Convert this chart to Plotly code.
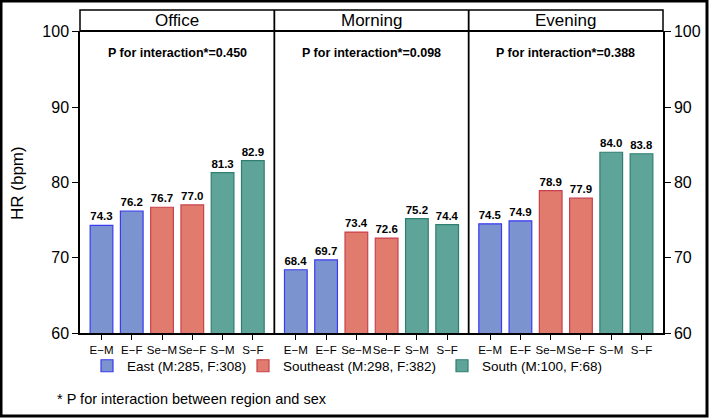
import plotly.graph_objects as go

panels = ["Office", "Morning", "Evening"]
p_values = ["0.450", "0.098", "0.388"]
categories = ["E−M", "E−F", "Se−M", "Se−F", "S−M", "S−F"]
regions = ["East (M:285, F:308)", "Southeast (M:298, F:382)", "South (M:100, F:68)"]
office = [74.3, 76.2, 76.7, 77.0, 81.3, 82.9]
morning = [68.4, 69.7, 73.4, 72.6, 75.2, 74.4]
evening = [74.5, 74.9, 78.9, 77.9, 84.0, 83.8]
panel_values = [office, morning, evening]
y_ticks = [60, 70, 80, 90, 100]

fills = ["#7B93CE", "#E07B6E", "#5FA498"]
lines = ["#3A3AF0", "#C8404C", "#2F7F70"]
legend_ids = ["legend", "legend2", "legend3"]
legend_x_px = [87, 243, 442]

AR = "Liberation Sans, Arial"

# plot area in pixels
L, R, T, B = 80, 663, 10, 333
PW, PH = R - L, B - T


def px_x(px):
    return (px - L) / PW


def px_y(py):
    return (B - py) / PH


fig = go.Figure()
for p in range(3):
    xa = "x" if p == 0 else f"x{p+1}"
    for r in range(3):
        cats = categories[2 * r:2 * r + 2]
        vals = panel_values[p][2 * r:2 * r + 2]
        fig.add_trace(go.Bar(
            x=cats, y=vals, xaxis=xa, yaxis="y",
            name=regions[r], legendgroup=regions[r], showlegend=(p == 0),
            legend=legend_ids[r],
            marker=dict(color=fills[r], line=dict(color=lines[r], width=1.2)),
            text=[f"{v:.1f}" for v in vals], textposition="outside",
            textfont=dict(family=AR, size=11.5, color="black", weight="bold"),
            cliponaxis=False,
        ))

ydom = [0, px_y(31)]
yr = [60, 100.1]
layout = dict(
    width=709, height=418,
    margin=dict(l=L, r=709 - R, t=T, b=418 - B, autoexpand=False),
    paper_bgcolor="white", plot_bgcolor="white",
    barmode="overlay", bargap=0.25,
    showlegend=True,
    yaxis=dict(domain=ydom, range=yr, tickvals=y_ticks, ticks="outside", ticklen=6,
               tickcolor="black", showline=True, linecolor="black", linewidth=1.5,
               showgrid=False, zeroline=False, anchor="x",
               tickfont=dict(family=AR, size=16, color="black")),
    yaxis4=dict(domain=ydom, range=yr, tickvals=y_ticks, ticks="outside", ticklen=6,
                tickcolor="black", showline=True, linecolor="black", linewidth=1.5,
                showgrid=False, zeroline=False, overlaying="y", side="right", anchor="x3",
                tickfont=dict(family=AR, size=16, color="black")),
)
for i, lid in enumerate(legend_ids):
    layout[lid] = dict(orientation="h", x=px_x(legend_x_px[i]), xanchor="left",
                       y=px_y(366), yanchor="middle", borderwidth=0,
                       bgcolor="rgba(0,0,0,0)",
                       font=dict(family=AR, size=13.5, color="black"))
for p in range(3):
    key = "xaxis" if p == 0 else f"xaxis{p+1}"
    layout[key] = dict(domain=[p / 3, (p + 1) / 3], anchor="y", type="category",
                       categoryorder="array", categoryarray=categories,
                       range=[-0.71, 5.71], ticks="outside", ticklen=5, tickcolor="black",
                       tickangle=0,
                       showline=True, linecolor="black", linewidth=1.5, showgrid=False,
                       tickfont=dict(family=AR, size=11.5, color="black"))
fig.update_layout(**layout)
# helper so the right-hand axis is drawn
fig.add_trace(go.Scatter(x=[None], y=[None], xaxis="x3", yaxis="y4", showlegend=False,
                         hoverinfo="skip"))

shapes = []
shapes.append(dict(type="rect", xref="paper", yref="paper", x0=0, x1=1, y0=ydom[1], y1=1,
                   line=dict(color="black", width=1.5), fillcolor="rgba(0,0,0,0)"))
shapes.append(dict(type="line", xref="paper", yref="paper", x0=0, x1=1, y0=ydom[1], y1=ydom[1],
                   line=dict(color="black", width=2.2)))
for d in [1 / 3, 2 / 3]:
    shapes.append(dict(type="line", xref="paper", yref="paper", x0=d, x1=d, y0=0, y1=1,
                       line=dict(color="black", width=1.8)))
shapes.append(dict(type="rect", xref="paper", yref="paper",
                   x0=px_x(1), x1=px_x(707), y0=px_y(416), y1=px_y(1),
                   line=dict(color="black", width=3), fillcolor="rgba(0,0,0,0)"))
fig.update_layout(shapes=shapes)

annotations = []
for p in range(3):
    cx = (p + 0.5) / 3
    annotations.append(dict(text=panels[p], xref="paper", yref="paper", x=cx, y=px_y(20.5),
                            xanchor="center", yanchor="middle",
                            showarrow=False, font=dict(family=AR, size=17, color="black")))
    annotations.append(dict(text=f"P for interaction*={p_values[p]}", xref="paper", yref="paper",
                            x=cx, y=px_y(53), xanchor="center", yanchor="middle", showarrow=False,
                            font=dict(family=AR, size=12.5, color="black", weight="bold")))
annotations.append(dict(text="HR (bpm)", xref="paper", yref="paper", x=px_x(17), xanchor="center",
                        y=px_y(183), yanchor="middle", textangle=-90, showarrow=False,
                        font=dict(family=AR, size=17, color="black")))
annotations.append(dict(text="* P for interaction between region and sex", xref="paper", yref="paper",
                        x=px_x(55), xanchor="left", y=px_y(399), yanchor="middle",
                        showarrow=False, font=dict(family=AR, size=14.5, color="black")))
fig.update_layout(annotations=annotations)

fig.write_html("out.html", config={"displayModeBar": False},
               post_script="document.body.style.margin='0px';")
